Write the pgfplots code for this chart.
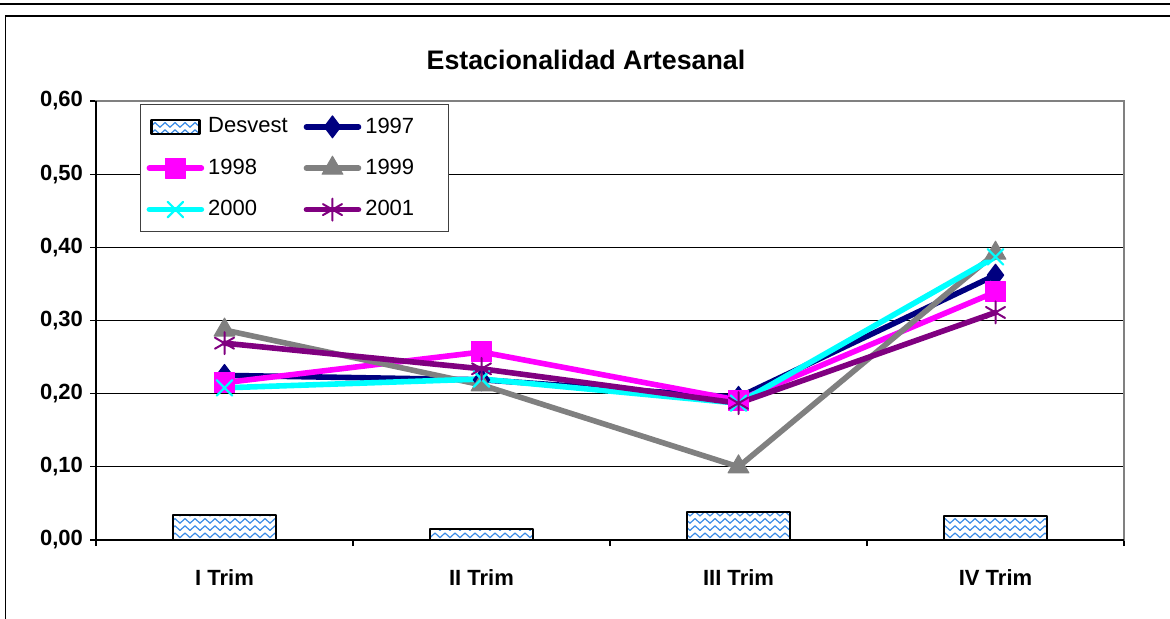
\documentclass[border=0pt]{standalone}
\usepackage{fontspec}
\setmainfont{Liberation Sans}
\usepackage{pgfplots}
\pgfplotsset{compat=1.18}
\usetikzlibrary{patterns}
\pgfdeclarepatternformonly{wavy}{\pgfpoint{-1pt}{-1pt}}{\pgfpoint{6pt}{4.5pt}}{\pgfpoint{5pt}{3.6pt}}{
  \pgfsetlinewidth{0.6pt}
  \pgfpathmoveto{\pgfpoint{0pt}{0.6pt}}
  \pgfpathlineto{\pgfpoint{2.5pt}{2.9pt}}
  \pgfpathlineto{\pgfpoint{5pt}{0.6pt}}
  \pgfusepath{stroke}
}
\definecolor{cNavy}{RGB}{0,0,128}
\definecolor{cMag}{RGB}{255,0,255}
\definecolor{cGray}{RGB}{128,128,128}
\definecolor{cCyan}{RGB}{0,255,255}
\definecolor{cPurp}{RGB}{128,0,128}
\definecolor{cPat}{RGB}{60,140,230}
\begin{document}
\begin{tikzpicture}
\useasboundingbox (0,0) rectangle (585pt,309pt);
\draw[line width=0.8pt] (-1pt,307pt) -- (586pt,307pt);
\draw[line width=0.8pt] (2.7pt,-1pt) -- (2.7pt,301pt) -- (586pt,301pt);
\node[font=\bfseries\fontsize{13.4}{16}\selectfont] at (293pt,279pt) {Estacionalidad Artesanal};
\begin{axis}[
  at={(48pt,39pt)}, anchor=south west,
  scale only axis, width=514pt, height=219.5pt,
  xmin=-0.5, xmax=3.5, ymin=0, ymax=0.6,
  xtick={0,1,2,3}, xticklabels={I Trim,II Trim,III Trim,IV Trim},
  minor xtick={-0.5,0.5,1.5,2.5,3.5},
  major x tick style={draw=none},
  ytick={0,0.1,0.2,0.3,0.4,0.5,0.6},
  yticklabel={\pgfmathprintnumber[fixed,fixed zerofill,precision=2,use comma]{\tick}},
  /pgf/number format/assume math mode=true,
  ticklabel style={font=\bfseries\fontsize{11}{13}\selectfont},
  xticklabel style={yshift=-8pt},
  tick align=outside, tick pos=left,
  major tick length=3pt, minor tick length=3pt,
  every tick/.style={black, line width=0.6pt},
  ymajorgrids, grid style={black, line width=0.5pt},
  axis line style={draw=cGray, line width=0.8pt},
  clip=false,
  legend columns=2,
  legend cell align=left,
  legend style={at={(axis description cs:0.0428,0.993)}, anchor=north west,
    draw=black!75, line width=0.6pt, fill=white,
    font=\fontsize{11}{13}\selectfont,
    row sep=7.5pt, inner xsep=3pt, inner ysep=4.5pt,
    /tikz/every even column/.append style={column sep=6pt}},
  legend image code/.code={\draw[mark repeat=2,mark phase=2] plot coordinates {(0pt,0pt)(13pt,0pt)(26pt,0pt)};},
  every axis plot/.append style={line width=2.8pt, line cap=round, line join=round},
]
\addplot[ybar, bar width=0.4, draw=black, line width=1.1pt, pattern=wavy, pattern color=cPat,
  legend image code/.code={\draw[draw=black, line width=1.1pt, pattern=wavy, pattern color=cPat] (1pt,-3.6pt) rectangle (25pt,3.6pt);}]
  coordinates {(0,0.034)(1,0.015)(2,0.038)(3,0.033)};
\addlegendentry{Desvest}
\addplot[cNavy, mark=diamond*, mark size=5.5pt, mark options={solid, fill=cNavy, line width=0.5pt}]
  coordinates {(0,0.225)(1,0.219)(2,0.195)(3,0.362)};
\addlegendentry{1997\hspace{12pt}\mbox{}}
\addplot[cMag, mark=square*, mark size=5pt, mark options={solid, fill=cMag, line width=0.5pt}]
  coordinates {(0,0.215)(1,0.257)(2,0.191)(3,0.339)};
\addlegendentry{1998}
\addplot[cGray, mark=triangle*, mark size=6pt, mark options={solid, fill=cGray, line width=0.5pt}]
  coordinates {(0,0.287)(1,0.212)(2,0.100)(3,0.392)};
\addlegendentry{1999\hspace{12pt}\mbox{}}
\addplot[cCyan, mark=x, mark size=5.5pt, mark options={solid, line width=1.1pt}]
  coordinates {(0,0.208)(1,0.220)(2,0.187)(3,0.387)};
\addlegendentry{2000}
\addplot[cPurp, mark=asterisk, mark size=5.5pt, mark options={solid, line width=1pt}]
  coordinates {(0,0.269)(1,0.234)(2,0.187)(3,0.311)};
\addlegendentry{2001\hspace{12pt}\mbox{}}
\draw[black, line width=0.8pt] (rel axis cs:0,1) -- (rel axis cs:0,0) -- (rel axis cs:1,0);
\end{axis}
\end{tikzpicture}
\end{document}
